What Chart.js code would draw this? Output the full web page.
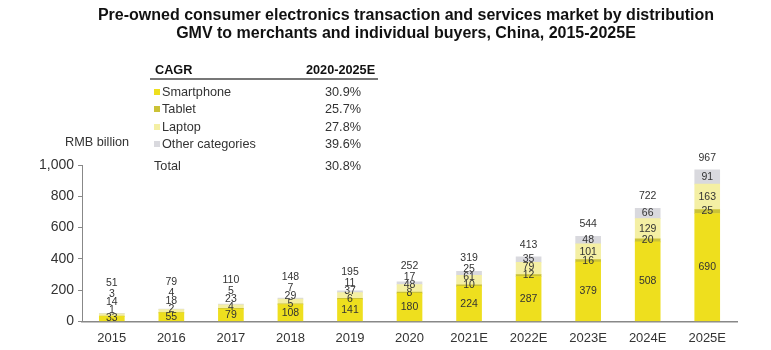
<!DOCTYPE html>
<html>
<head>
<meta charset="utf-8">
<script src="https://cdn.jsdelivr.net/npm/chart.js@4"></script>
<style>
  html, body { margin: 0; padding: 0; background: #fff; }
  #wrap { position: relative; width: 771px; height: 350px; font-family: "Liberation Sans", Arial, sans-serif; color: #222; }
  #chart { position: absolute; left: 0; top: 0; }
  .title { position: absolute; left: 0; width: 812px; text-align: center; font-weight: bold; font-size: 16px; line-height: 18px; color: #111; }
  .t { position: absolute; font-size: 12.7px; color: #333; white-space: nowrap; line-height: 14px; }
  .b { font-weight: bold; color: #111; }
  .sw { position: absolute; width: 6px; height: 6px; }
  .val { position: absolute; width: 70px; text-align: center; font-size: 12.7px; color: #333; line-height: 14px; }
</style>
</head>
<body>
<div id="wrap">
  <canvas id="chart" width="771" height="350"></canvas>
  <div class="title" style="top:6px;">Pre-owned consumer electronics transaction and services market by distribution</div>
  <div class="title" style="top:24px;">GMV to merchants and individual buyers, China, 2015-2025E</div>
  <div id="legend"></div>
  <div class="t" style="left:65px; top:135px;">RMB billion</div>
</div>
<script>
const categories = ["2015","2016","2017","2018","2019","2020","2021E","2022E","2023E","2024E","2025E"];
const smartphone = [33, 55, 79, 108, 141, 180, 224, 287, 379, 508, 690];
const tablet     = [1, 2, 4, 5, 6, 8, 10, 12, 16, 20, 25];
const laptop     = [14, 18, 23, 29, 37, 48, 61, 79, 101, 129, 163];
const other      = [3, 4, 5, 7, 11, 17, 25, 35, 48, 66, 91];
const totals     = [51, 79, 110, 148, 195, 252, 319, 413, 544, 722, 967];
const seriesNames = ["Smartphone", "Tablet", "Laptop", "Other categories"];
const cagr = ["30.9%", "25.7%", "27.8%", "39.6%"];
const cagrTotal = "30.8%";
const colors = ["#EEDF1E", "#CBC236", "#F4EFA4", "#D9D9DE"];

// Legend / CAGR table (HTML text)
const lg = document.getElementById('legend');
let html = '';
html += '<div class="t b" style="left:155px; top:63px;">CAGR</div>';
html += '<div class="t b" style="left:306px; top:63px;">2020-2025E</div>';
html += '<div style="position:absolute; left:150px; top:78px; width:228px; height:2px; background:#777;"></div>';
const rowY = [92, 109, 127, 144];
seriesNames.forEach((n, i) => {
  html += '<div class="sw" style="left:154px; top:' + (rowY[i] - 3) + 'px; background:' + colors[i] + ';"></div>';
  html += '<div class="t" style="left:162px; top:' + (rowY[i] - 7) + 'px;">' + n + '</div>';
  html += '<div class="val" style="left:308px; top:' + (rowY[i] - 7) + 'px;">' + cagr[i] + '</div>';
});
html += '<div class="t" style="left:154px; top:159px;">Total</div>';
html += '<div class="val" style="left:308px; top:159px;">' + cagrTotal + '</div>';
lg.innerHTML = html;

const labelPlugin = {
  id: 'stackLabels',
  afterDatasetsDraw(chart) {
    const ctx = chart.ctx;
    ctx.save();
    ctx.font = '10.5px "Liberation Sans", Arial, sans-serif';
    ctx.fillStyle = '#333';
    ctx.textAlign = 'center';
    ctx.textBaseline = 'middle';
    const n = chart.data.labels.length;
    for (let i = 0; i < n; i++) {
      let prev = null;
      let x = 0, top = 0;
      for (let d = 0; d < 4; d++) {
        const el = chart.getDatasetMeta(d).data[i];
        const ds = chart.data.datasets[d];
        x = el.x;
        top = el.y;
        let y = (el.y + el.base) / 2;
        if (prev !== null) y = Math.min(y, prev - 8);
        ctx.fillText(String(ds.data[i]), x, y);
        prev = y;
      }
      const ty = Math.min(top - 12, prev - 11);
      ctx.fillText(String(totals[i]), x, ty);
    }
    ctx.restore();
  }
};

const datasets = [smartphone, tablet, laptop, other].map((arr, i) => ({
  label: seriesNames[i],
  data: arr,
  backgroundColor: colors[i],
  borderWidth: 0,
  barThickness: 25,
  stack: 's'
}));

new Chart(document.getElementById('chart'), {
  type: 'bar',
  data: { labels: categories, datasets },
  options: {
    responsive: false,
    animation: false,
    layout: { padding: { top: 165, right: 34, bottom: 3, left: 35 } },
    plugins: { legend: { display: false }, tooltip: { enabled: false } },
    scales: {
      x: {
        stacked: true,
        grid: { display: false },
        border: { display: true, color: '#888', width: 1.5 },
        ticks: { color: '#333', font: { size: 13, family: '"Liberation Sans", Arial, sans-serif' }, padding: 1 }
      },
      y: {
        stacked: true,
        min: 0, max: 1000,
        ticks: {
          stepSize: 200,
          color: '#333',
          padding: 4,
          font: { size: 14, family: '"Liberation Sans", Arial, sans-serif' },
          callback: v => v.toLocaleString('en-US')
        },
        grid: { display: true, drawOnChartArea: false, drawTicks: true, tickLength: 4, color: '#888' },
        border: { display: true, color: '#888', width: 1 }
      }
    }
  },
  plugins: [labelPlugin]
});
</script>
</body>
</html>
